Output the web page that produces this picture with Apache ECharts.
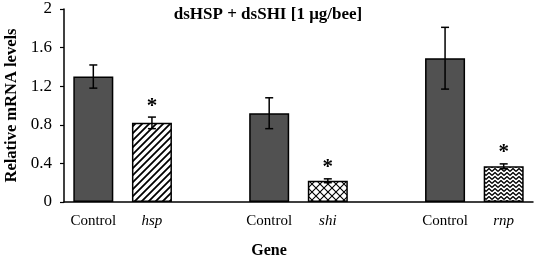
<!DOCTYPE html>
<html>
<head>
<meta charset="utf-8">
<script src="https://cdn.jsdelivr.net/npm/echarts@6/dist/echarts.min.js"></script>
<style>
  html, body { margin: 0; padding: 0; background: #fff; }
  #chart { width: 536px; height: 261px; }
</style>
</head>
<body>
<div id="chart"></div>
<script>
// data
var categories = ["Control", "hsp", "", "Control", "shi", "", "Control", "rnp"];
var geneLabels = ["hsp", "shi", "rnp"];
var levels = [1.30, 0.82, null, 0.92, 0.22, null, 1.49, 0.37];
var errors = [0.12, 0.06, null, 0.16, 0.02, null, 0.32, 0.025];
var significant = [false, true, false, false, true, false, false, true];
var patterns = ["solid", "stripes", null, "solid", "cross", null, "solid", "zigzag"];
var yTicks = [0, 0.4, 0.8, 1.2, 1.6, 2];

function makePattern(kind) {
  var c = document.createElement("canvas");
  var g = c.getContext("2d");
  if (kind === "stripes") {
    c.width = 7; c.height = 7;
    g.fillStyle = "#fff"; g.fillRect(0, 0, 7, 7);
    g.strokeStyle = "#000"; g.lineWidth = 1.8;
    g.beginPath();
    g.moveTo(-1, 8); g.lineTo(8, -1);
    g.moveTo(-1, 1); g.lineTo(1, -1);
    g.moveTo(6, 8); g.lineTo(8, 6);
    g.stroke();
  } else if (kind === "cross") {
    c.width = 8; c.height = 8;
    g.fillStyle = "#fff"; g.fillRect(0, 0, 8, 8);
    g.strokeStyle = "#000"; g.lineWidth = 1.1;
    g.beginPath();
    g.moveTo(0, 0); g.lineTo(8, 8);
    g.moveTo(0, 8); g.lineTo(8, 0);
    g.stroke();
  } else {
    // herringbone-like zigzag
    c.width = 6; c.height = 4;
    g.fillStyle = "#fff"; g.fillRect(0, 0, 6, 4);
    g.strokeStyle = "#000"; g.lineWidth = 1.3;
    g.beginPath();
    g.moveTo(0, 3.5); g.lineTo(3, 0.5); g.lineTo(6, 3.5);
    g.moveTo(3, 0.5); g.lineTo(3, -1);
    g.stroke();
  }
  return { image: c, repeat: "repeat" };
}

var barData = levels.map(function (v, i) {
  if (v === null) return null;
  var fill = patterns[i] === "solid" ? "#515151" : makePattern(patterns[i]);
  return { value: v, itemStyle: { color: fill } };
});

var errData = [];
levels.forEach(function (v, i) {
  if (v !== null) errData.push([i, v, errors[i], significant[i] ? 1 : 0]);
});

var myChart = echarts.init(document.getElementById("chart"), null, { renderer: "canvas" });
var font = "'Liberation Serif', 'Times New Roman', serif";

var option = {
  animation: false,
  textStyle: { fontFamily: font },
  title: {
    text: "dsHSP + dsSHI [1 μg/bee]",
    left: "center",
    top: 1,
    textStyle: { fontFamily: font, fontSize: 17, fontWeight: "bold", color: "#000" }
  },
  grid: { left: 64, right: 3, top: 9, bottom: 59, containLabel: false, outerBoundsMode: "none" },
  xAxis: {
    type: "category",
    data: categories,
    axisLine: { lineStyle: { color: "#000", width: 1.5 } },
    axisTick: { show: false },
    axisLabel: {
      interval: 0,
      margin: 12,
      fontSize: 15,
      color: "#000",
      fontFamily: font,
      formatter: function (v) {
        return geneLabels.indexOf(v) >= 0 ? "{i|" + v + "}" : v;
      },
      rich: { i: { fontStyle: "italic", fontSize: 15, fontFamily: font, color: "#000" } }
    },
    name: "Gene",
    nameLocation: "middle",
    nameGap: 41,
    nameTextStyle: {
      fontFamily: font, fontSize: 16, fontWeight: "bold", color: "#000",
      padding: [0, 59, 0, 0]
    }
  },
  yAxis: {
    type: "value",
    min: 0,
    max: 2,
    interval: 0.4,
    axisLine: { show: true, lineStyle: { color: "#000", width: 1.5 } },
    axisTick: { show: true, length: 4, lineStyle: { color: "#000", width: 1.2 } },
    splitLine: { show: false },
    axisLabel: {
      fontSize: 17,
      color: "#000",
      fontFamily: font,
      margin: 12,
      formatter: function (v) {
        var t = yTicks.filter(function (y) { return Math.abs(y - v) < 1e-6; });
        return t.length ? String(t[0]) : "";
      }
    },
    name: "Relative mRNA levels",
    nameLocation: "middle",
    nameGap: 43,
    nameTextStyle: { fontFamily: font, fontSize: 16.5, fontWeight: "bold", color: "#000" }
  },
  series: [
    {
      type: "bar",
      data: barData,
      barWidth: 40,
      itemStyle: { borderColor: "#000", borderWidth: 1.5 }
    },
    {
      type: "custom",
      data: errData,
      encode: { x: 0, y: 1 },
      z: 10,
      renderItem: function (params, api) {
        var x = api.value(0), v = api.value(1), e = api.value(2), s = api.value(3);
        var top = api.coord([x, v + e]);
        var bot = api.coord([x, v - e]);
        var w = 4;
        var style = { stroke: "#000", lineWidth: 1.5 };
        var kids = [
          { type: "line", shape: { x1: top[0], y1: top[1], x2: bot[0], y2: bot[1] }, style: style },
          { type: "line", shape: { x1: top[0] - w, y1: top[1], x2: top[0] + w, y2: top[1] }, style: style },
          { type: "line", shape: { x1: bot[0] - w, y1: bot[1], x2: bot[0] + w, y2: bot[1] }, style: style }
        ];
        if (s) {
          kids.push({
            type: "text",
            style: {
              text: "*", x: top[0], y: top[1] - 11,
              align: "center", verticalAlign: "middle",
              font: "bold 21px " + font, fill: "#000"
            }
          });
        }
        return { type: "group", children: kids };
      }
    }
  ]
};

option && myChart.setOption(option);
window.addEventListener("resize", function () {
  myChart.resize();
});
</script>
</body>
</html>
